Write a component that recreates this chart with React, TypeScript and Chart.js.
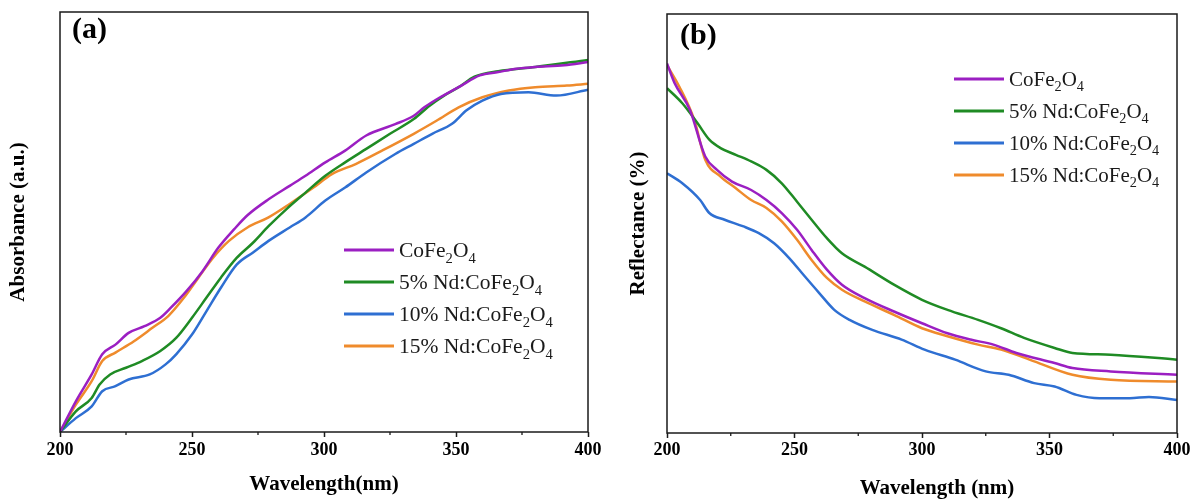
import React, { useEffect, useRef } from 'react';
import { Chart, registerables } from 'chart.js';

Chart.register(...registerables);

// ---------- shared ----------
const seriesLabels = ['CoFe2O4', '5% Nd:CoFe2O4', '10% Nd:CoFe2O4', '15% Nd:CoFe2O4'];
const seriesColors = ['#9b1fc2', '#1f8b24', '#2e6fd2', '#ef8b2c'];
const xMin = 200;
const xMax = 400;
const xStep = 50;
const minorTicks = [225, 275, 325, 375];

// ---------- panel (a): absorbance ----------
const absWlCo = [200, 206, 212, 216, 221, 226, 232, 238, 242, 248, 254, 260, 266, 271, 279, 287, 293, 300.5, 308, 316, 327, 334, 338, 344, 351, 359, 366, 373, 380, 391, 400];
const absCo = [0, 7.3, 13.7, 18.5, 20.8, 23.6, 25.2, 27.2, 29.6, 33.6, 38.3, 43.9, 48.3, 51.6, 55.4, 58.6, 61.0, 64.2, 67.0, 70.6, 73.3, 75.3, 77.3, 79.7, 82.1, 84.9, 85.7, 86.5, 86.9, 87.3, 88.1];

const absWlNd5 = [200, 206, 212, 215, 219, 225, 231, 238, 244, 250, 255.5, 261, 267, 273, 279, 286, 293, 300.5, 308, 316, 325, 334, 340, 345.5, 351, 357, 366, 380, 400];
const absNd5 = [0, 4.9, 8.1, 11.3, 13.7, 15.3, 16.9, 19.3, 22.4, 27.2, 32.0, 36.8, 41.5, 45.0, 49.0, 53.2, 57.0, 61.0, 64.2, 67.4, 71.0, 74.5, 77.7, 80.1, 82.1, 84.6, 85.9, 86.9, 88.6];

const absWlNd10 = [200, 206, 212, 216, 221, 226, 234, 240, 244, 250, 255.5, 261, 267, 273, 279, 287, 293, 300.5, 308, 316, 327, 334, 341, 348.5, 354, 360, 367, 377.5, 388, 400];
const absNd10 = [0, 3.3, 6.1, 9.7, 10.9, 12.5, 13.7, 16.1, 18.5, 23.2, 28.8, 34.4, 39.9, 42.7, 45.5, 48.7, 51.1, 55.1, 58.2, 61.8, 66.2, 68.6, 71.0, 73.4, 76.6, 78.9, 80.5, 80.9, 80.1, 81.5];

const absWlNd15 = [200, 206, 212, 216, 221, 228, 235, 241, 247, 252.5, 258, 264, 271, 279, 287, 296, 303, 312, 322, 334, 342.6, 351, 360, 370, 380, 392, 400];
const absNd15 = [0, 6.5, 12.1, 16.9, 18.9, 21.6, 24.8, 27.6, 32.0, 36.8, 41.5, 45.5, 48.7, 51.1, 54.3, 58.2, 61.4, 63.8, 67.0, 71.0, 74.1, 77.3, 79.7, 81.3, 82.1, 82.5, 82.9];

// ---------- panel (b): reflectance ----------
const refWlCo = [200, 203, 209, 215, 219.6, 225.5, 233, 239, 245, 251, 256.7, 262.7, 268.6, 277.5, 289, 300, 310, 319, 328, 337, 352, 359, 374, 400];
const refCo = [88.2, 83.5, 77.1, 66.0, 62.8, 60.0, 58.0, 55.6, 52.5, 48.5, 43.7, 39.0, 35.4, 32.2, 29.0, 26.2, 23.8, 22.3, 21.1, 19.1, 16.7, 15.5, 14.7, 13.9];

const refWlNd5 = [200, 206, 212, 216.6, 221, 227, 233, 239, 245, 251, 256.7, 262.7, 268.6, 277.5, 289, 300, 310, 322, 331, 340, 352, 359, 374, 400];
const refNd5 = [82.3, 78.7, 73.9, 70.0, 68.0, 66.4, 64.8, 62.8, 59.6, 55.2, 50.9, 46.5, 42.9, 39.7, 35.4, 31.8, 29.4, 27.0, 25.0, 22.7, 20.3, 19.1, 18.7, 17.5];

const refWlNd10 = [200, 206, 213, 216.6, 222.6, 230, 236, 242, 248, 254, 259.7, 265.6, 271.6, 280.5, 292, 301, 313, 325, 334, 344, 352, 360.6, 369.6, 381.5, 389, 400];
const refNd10 = [62.0, 59.6, 55.6, 52.5, 50.9, 49.3, 47.7, 45.3, 41.7, 37.4, 33.4, 29.4, 27.0, 24.6, 22.3, 19.9, 17.5, 14.7, 13.9, 11.9, 11.1, 9.1, 8.3, 8.3, 8.6, 7.9];

const refWlNd15 = [200, 204.8, 210.7, 215, 221, 227, 233, 239, 245, 251, 256.7, 262.7, 268.6, 277.5, 289, 300, 310, 322, 331, 344, 359, 374, 400];
const refNd15 = [87.8, 82.7, 74.7, 65.2, 61.2, 58.4, 55.6, 53.7, 50.5, 46.1, 41.3, 37.0, 34.2, 31.4, 28.2, 25.0, 23.1, 21.1, 19.9, 17.1, 13.9, 12.7, 12.3];

const FONT = '"Liberation Serif", "Times New Roman", serif';

type Layout = {
  tag: string;
  xTitle: string;
  yTitle: string;
  padTop: number;
  padRight: number;
  yWidth: number;
  xHeight: number;
  yTitlePad: number;
  xTitleDx: number;
  xTitleY: number;
  tickPad: number;
  legendDx: number;
  legendDy: number;
  legendGap: number;
  legendFont: number;
  tagDx: number;
  tagDy: number;
};

function drawRich(ctx: CanvasRenderingContext2D, text: string, x: number, y: number, size: number) {
  const parts = text.split(/(?<=[A-Za-z])(\d+)/);
  let cx = x;
  parts.forEach((p, i) => {
    if (!p) return;
    const sub = i % 2 === 1;
    ctx.font = `${sub ? size * 0.68 : size}px ${FONT}`;
    ctx.fillText(p, cx, sub ? y + size * 0.26 : y);
    cx += ctx.measureText(p).width;
  });
}

function makeChart(canvas: HTMLCanvasElement, wls: number[][], vals: number[][], L: Layout) {
  const datasets = wls.map((wl, i) => ({
    label: seriesLabels[i],
    data: wl.map((w, j) => ({ x: w, y: vals[i][j] })),
    borderColor: seriesColors[i],
    backgroundColor: seriesColors[i],
    borderWidth: 2.5,
    pointRadius: 0,
    cubicInterpolationMode: 'monotone' as const,
    fill: false,
  }));

  const deco = {
    id: 'deco',
    afterDraw(chart: any) {
      const { ctx, chartArea: a, scales } = chart;
      ctx.save();
      // frame
      ctx.strokeStyle = '#1a1a1a';
      ctx.lineWidth = 1.5;
      ctx.strokeRect(a.left, a.top, a.right - a.left, a.bottom - a.top);
      // minor ticks
      ctx.lineWidth = 1.3;
      minorTicks.forEach((v) => {
        const px = scales.x.getPixelForValue(v);
        ctx.beginPath();
        ctx.moveTo(px, a.bottom);
        ctx.lineTo(px, a.bottom + 3);
        ctx.stroke();
      });
      // x-axis title
      ctx.fillStyle = '#000';
      ctx.font = `bold 21px ${FONT}`;
      ctx.textBaseline = 'middle';
      ctx.textAlign = 'center';
      ctx.fillText(L.xTitle, (a.left + a.right) / 2 + L.xTitleDx, L.xTitleY);
      // panel tag
      ctx.font = `bold 30px ${FONT}`;
      ctx.textAlign = 'left';
      ctx.fillText(L.tag, a.left + L.tagDx, a.top + L.tagDy);
      // legend
      ctx.textBaseline = 'alphabetic';
      seriesLabels.forEach((lab, i) => {
        const y = a.top + L.legendDy + i * L.legendGap;
        const x0 = a.left + L.legendDx;
        ctx.strokeStyle = seriesColors[i];
        ctx.lineWidth = 3;
        ctx.beginPath();
        ctx.moveTo(x0, y);
        ctx.lineTo(x0 + 50, y);
        ctx.stroke();
        ctx.fillStyle = '#1a1a1a';
        drawRich(ctx, lab, x0 + 55, y + 7, L.legendFont);
      });
      ctx.restore();
    },
  };

  return new Chart(canvas, {
    type: 'line',
    data: { datasets },
    plugins: [deco],
    options: {
      animation: false,
      responsive: false,
      maintainAspectRatio: false,
      layout: { padding: { top: L.padTop, right: L.padRight, left: 0, bottom: 0 } },
      plugins: { legend: { display: false }, tooltip: { enabled: false } },
      scales: {
        x: {
          type: 'linear',
          min: xMin,
          max: xMax,
          afterFit: (s: any) => { s.height = L.xHeight; },
          border: { display: false },
          grid: { drawOnChartArea: false, drawTicks: true, tickLength: 5, tickColor: '#1a1a1a', tickWidth: 1.5 },
          ticks: { stepSize: xStep, padding: L.tickPad, color: '#000', font: { family: FONT, size: 18, weight: 'bold' } },
          title: { display: false, text: L.xTitle },
        },
        y: {
          type: 'linear',
          min: 0,
          max: 100,
          afterFit: (s: any) => { s.width = L.yWidth; },
          border: { display: false },
          grid: { display: false },
          ticks: { display: false },
          title: { display: true, text: L.yTitle, color: '#000', padding: { top: L.yTitlePad, bottom: 0 }, font: { family: FONT, size: 21, weight: 'bold' } },
        },
      },
    },
  });
}

export default function App() {
  const refA = useRef<HTMLCanvasElement>(null);
  const refB = useRef<HTMLCanvasElement>(null);

  useEffect(() => {
    const a = makeChart(
      refA.current!,
      [absWlCo, absWlNd5, absWlNd10, absWlNd15],
      [absCo, absNd5, absNd10, absNd15],
      {
        tag: '(a)', xTitle: 'Wavelength(nm)', yTitle: 'Absorbance (a.u.)',
        padTop: 12, padRight: 32, yWidth: 60, xHeight: 71, yTitlePad: 6, xTitleDx: 0, xTitleY: 485, tickPad: 3,
        legendDx: 284, legendDy: 238, legendGap: 32, legendFont: 21.5, tagDx: 12, tagDy: 18,
      }
    );
    const b = makeChart(
      refB.current!,
      [refWlCo, refWlNd5, refWlNd10, refWlNd15],
      [refCo, refNd5, refNd10, refNd15],
      {
        tag: '(b)', xTitle: 'Wavelength (nm)', yTitle: 'Reflectance (%)',
        padTop: 14, padRight: 17, yWidth: 67, xHeight: 70, yTitlePad: 26, xTitleDx: 15, xTitleY: 489, tickPad: 2,
        legendDx: 287, legendDy: 65, legendGap: 32, legendFont: 21, tagDx: 13, tagDy: 22,
      }
    );
    return () => { a.destroy(); b.destroy(); };
  }, []);

  return (
    <div style={{ position: 'fixed', left: 0, top: 0, width: 1194, height: 503, background: '#fff', overflow: 'hidden' }}>
      <canvas ref={refA} width={620} height={503} style={{ position: 'absolute', left: 0, top: 0, width: 620, height: 503 }} />
      <canvas ref={refB} width={594} height={503} style={{ position: 'absolute', left: 600, top: 0, width: 594, height: 503 }} />
    </div>
  );
}
